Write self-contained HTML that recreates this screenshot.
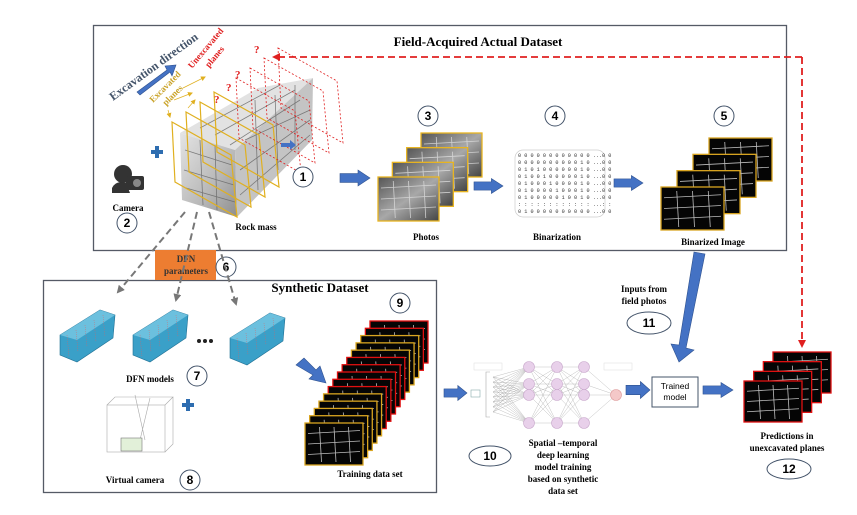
<!DOCTYPE html>
<html><head><meta charset="utf-8">
<style>
html,body{margin:0;padding:0;background:#fff;}
svg{display:block;font-family:"Liberation Serif",serif;}
.b{font-weight:bold;}
</style></head>
<body>
<svg id="s" width="857" height="515" viewBox="0 0 857 515" xmlns="http://www.w3.org/2000/svg">
<defs>
<linearGradient id="rk" x1="0" y1="0" x2="1" y2="1">
<stop offset="0" stop-color="#e4e4e4"/><stop offset="0.6" stop-color="#b8b8b8"/><stop offset="1" stop-color="#8e8e8e"/>
</linearGradient>
<linearGradient id="ph" x1="0" y1="0" x2="1" y2="1">
<stop offset="0" stop-color="#555"/><stop offset="0.5" stop-color="#a8a8a8"/><stop offset="1" stop-color="#444"/>
</linearGradient>
<marker id="ra" markerWidth="8" markerHeight="8" refX="6" refY="4" orient="auto" markerUnits="userSpaceOnUse"><path d="M0,0 L8,4 L0,8 z" fill="#e02020"/></marker>
<marker id="ga" markerWidth="8" markerHeight="8" refX="6" refY="4" orient="auto" markerUnits="userSpaceOnUse"><path d="M0,0 L8,4 L0,8 z" fill="#777"/></marker>
<marker id="ya" markerWidth="5" markerHeight="5" refX="4" refY="2.5" orient="auto" markerUnits="userSpaceOnUse"><path d="M0,0 L5,2.5 L0,5 z" fill="#e0b020"/></marker>
</defs>

<rect x="93.5" y="25.5" width="693" height="225" fill="none" stroke="#555a66" stroke-width="1.3"/>
<text x="478" y="46" class="b" font-size="13" text-anchor="middle">Field-Acquired Actual Dataset</text>

<rect x="43.5" y="280.5" width="393" height="212" fill="none" stroke="#555a66" stroke-width="1.3"/>
<text x="320" y="292" class="b" font-size="13" text-anchor="middle">Synthetic Dataset</text>

<rect x="155" y="250" width="61" height="30" fill="#ed7d31"/>
<text x="186" y="262" class="b" font-size="9" text-anchor="middle" fill="#333">DFN</text>
<text x="186" y="274" class="b" font-size="9" text-anchor="middle" fill="#333">parameters</text>

<polygon points="180,133 258,88 313,78 235,150" fill="#e2e2e2"/>
<polygon points="180,133 235,150 237,217 182,200" fill="url(#rk)"/>
<polygon points="235,150 313,78 312,140 237,217" fill="#c4c4c4"/>
<g id="cracks" stroke="#666" stroke-width="0.8" fill="none" opacity="0.8"></g>
<g id="planes"></g>

<text transform="translate(113,101) rotate(-36)" class="b" font-size="12" fill="#44546a">Excavation direction</text>
<polygon points="137,92 167,70 165,66 176,65 172,76 170,72 140,95" fill="#4472c4" stroke="#2f528f" stroke-width="0.6"/>
<text transform="translate(153,103) rotate(-45)" class="b" font-size="9" fill="#c9a227">Excavated</text>
<text transform="translate(166,106) rotate(-45)" class="b" font-size="9" fill="#c9a227">planes</text>
<text transform="translate(192,69) rotate(-50)" class="b" font-size="9" fill="#e02020">Unexcavated</text>
<text transform="translate(209,68) rotate(-50)" class="b" font-size="9" fill="#e02020">planes</text>
<g class="b" font-size="11" fill="#e02020"><text x="214" y="103">?</text><text x="226" y="91">?</text><text x="235" y="78">?</text><text x="254" y="53">?</text></g>
<path d="M281,143 h9 v-3 l6,5 -6,5 v-3 h-9z" fill="#4472c4"/>

<g fill="#333">
<circle cx="123" cy="174" r="9"/>
<path d="M112,188 q4,-8 14,-5 l4,10 h-18z"/>
<rect x="126" y="176" width="18" height="14" rx="2"/>
<circle cx="137" cy="183" r="4" fill="#888"/>
</g>
<text x="128" y="211" class="b" font-size="9" text-anchor="middle">Camera</text>
<path d="M151,152 h12 M157,146 v12" stroke="#2e6db0" stroke-width="4"/>
<text x="256" y="230" class="b" font-size="9" text-anchor="middle">Rock mass</text>

<g fill="#fff" stroke="#44546a" stroke-width="1">
<circle cx="303" cy="177" r="10"/><circle cx="127" cy="223" r="10"/><circle cx="428" cy="116" r="10"/>
<circle cx="555" cy="116" r="10"/><circle cx="724" cy="116" r="10"/><circle cx="226" cy="267" r="10"/>
<circle cx="197" cy="376" r="10"/><circle cx="190" cy="480" r="10"/><circle cx="400" cy="303" r="10"/>
<ellipse cx="490" cy="456" rx="21" ry="10"/><ellipse cx="649" cy="323" rx="22" ry="11"/><ellipse cx="789" cy="469" rx="22" ry="10"/>
</g>
<g font-family="Liberation Sans,sans-serif" font-weight="bold" font-size="12" text-anchor="middle">
<text x="303" y="181">1</text><text x="127" y="227">2</text><text x="428" y="120">3</text><text x="555" y="120">4</text>
<text x="724" y="120">5</text><text x="226" y="271">6</text><text x="197" y="380">7</text><text x="190" y="484">8</text>
<text x="400" y="307">9</text><text x="490" y="460">10</text><text x="649" y="327">11</text><text x="789" y="473">12</text>
</g>

<g fill="#4472c4" stroke="#2f528f" stroke-width="0.6" id="arrows"></g>

<g id="stacks"></g>
<text x="426" y="240" class="b" font-size="9" text-anchor="middle">Photos</text>
<text x="557" y="240" class="b" font-size="9" text-anchor="middle">Binarization</text>
<text x="713" y="245" class="b" font-size="9" text-anchor="middle">Binarized Image</text>

<rect x="515" y="150" width="90" height="67" rx="8" fill="none" stroke="#ccc" stroke-width="0.7"/>
<g id="mat" font-size="5.2" font-family="Liberation Mono,monospace" fill="#333"></g>

<path d="M802,57 H274" stroke="#e02020" stroke-width="1.8" stroke-dasharray="7,4" fill="none" marker-end="url(#ra)"/>
<path d="M802,57 V346" stroke="#e02020" stroke-width="1.8" stroke-dasharray="7,4" fill="none" marker-end="url(#ra)"/>
<g stroke="#777" stroke-width="2" stroke-dasharray="7,4" fill="none">
<path d="M185,212 L118,292" marker-end="url(#ga)"/>
<path d="M197,212 L176,300" marker-end="url(#ga)"/>
<path d="M209,212 L236,304" marker-end="url(#ga)"/>
</g>

<g id="dfn"></g>
<g fill="#222"><circle cx="199" cy="341" r="2"/><circle cx="205" cy="341" r="2"/><circle cx="211" cy="341" r="2"/></g>
<text x="150" y="382" class="b" font-size="9" text-anchor="middle">DFN models</text>
<path d="M182,405 h12 M188,399 v12" stroke="#2e6db0" stroke-width="4"/>
<g stroke="#aaa" stroke-width="0.6" fill="none">
<rect x="107" y="405" width="58" height="47"/><path d="M107,405 l8,-8 h58 l-8,8 M165,452 l8,-8 v-47"/>
<path d="M135,395 l10,45 M150,398 l-10,42"/>
</g>
<rect x="121" y="438" width="21" height="13" fill="#e2f0d9" stroke="#777" stroke-width="0.6"/>
<text x="135" y="483" class="b" font-size="9" text-anchor="middle">Virtual camera</text>
<text x="370" y="477" class="b" font-size="9" text-anchor="middle">Training data set</text>

<g id="nn"></g>
<rect x="652" y="377" width="46" height="30" fill="#fff" stroke="#44546a" stroke-width="1"/>
<text x="675" y="389" font-family="Liberation Sans,sans-serif" font-size="8.5" text-anchor="middle">Trained</text>
<text x="675" y="400" font-family="Liberation Sans,sans-serif" font-size="8.5" text-anchor="middle">model</text>
<g class="b" font-size="9" text-anchor="middle">
<text x="563" y="446">Spatial –temporal</text><text x="563" y="458">deep learning</text><text x="563" y="470">model training</text>
<text x="563" y="482">based on synthetic</text><text x="563" y="494">data set</text>
<text x="644" y="292">Inputs from</text><text x="644" y="304">field photos</text>
<text x="787" y="439">Predictions in</text><text x="787" y="451">unexcavated planes</text>
</g>
</svg>
<script>
const NS="http://www.w3.org/2000/svg";
function el(p,t,a){const e=document.createElementNS(NS,t);for(const k in a)e.setAttribute(k,a[k]);p.appendChild(e);return e;}
const $=id=>document.getElementById(id);
const cr=$("cracks");
[[185,150,232,165],[184,170,234,185],[186,188,235,202],[200,140,203,205],[215,145,217,210],[200,128,280,85],[215,135,295,90],[230,145,300,100],[245,140,310,110],[240,170,310,120],[240,195,310,135],[255,100,258,190],[275,95,278,170],[295,85,295,150]].forEach(c=>el(cr,"line",{x1:c[0],y1:c[1],x2:c[2],y2:c[3]}));
const pl=$("planes");
for(let i=0;i<8;i++){const dx=i*14+(i>3?8:0),dy=-i*10-(i>3?4:0);
 const pts=[[172+dx,122+dy],[231+dx,155+dy],[237+dx,217+dy],[175+dx,182+dy]].map(p=>p.join(",")).join(" ");
 if(i<4)el(pl,"polygon",{points:pts,fill:"none",stroke:"#e0b020","stroke-width":1.2});
 else el(pl,"polygon",{points:pts,fill:"none",stroke:"#e02020","stroke-width":0.8,"stroke-dasharray":"2,2"});
}
[[183,88,205,77],[174,100,192,93],[168,110,170,117],[188,108,195,100]].forEach(a=>el(pl,"path",{d:`M${a[0]},${a[1]} L${a[2]},${a[3]}`,stroke:"#e0b020","stroke-width":0.7,"marker-end":"url(#ya)"}));
const ar=$("arrows");
function harrow(x1,x2,y,h){const hh=h/2,head=Math.min(12,(x2-x1)*0.4);
 el(ar,"polygon",{points:`${x1},${y-hh*0.55} ${x2-head},${y-hh*0.55} ${x2-head},${y-hh} ${x2},${y} ${x2-head},${y+hh} ${x2-head},${y+hh*0.55} ${x1},${y+hh*0.55}`});}
harrow(340,370,178,16);harrow(474,503,186,15);harrow(614,643,183,15);
harrow(444,467,393,15);harrow(626,650,390,17);harrow(703,733,390,15);
el(ar,"polygon",{points:"296,365 304,358 316,370 320,366 326,383 309,379 313,375"});
el(ar,"polygon",{points:"694,252 705,254 686,348 694,350 679,362 671,344 679,345"});
const st=$("stacks");
function stack(front,back,n,colorFn,fill){
 for(let i=n-1;i>=0;i--){const t=n>1?i/(n-1):0;
  const x1=front[0]+(back[0]-front[0])*t,y1=front[1]+(back[1]-front[1])*t;
  const w=front[2]-front[0],h=front[3]-front[1];
  el(st,"rect",{x:x1,y:y1,width:w,height:h,fill:fill,stroke:colorFn(i),"stroke-width":1.3});
  const g=el(st,"g",{stroke:"#ddd","stroke-width":0.8,opacity:0.85});
  for(let k=1;k<4;k++)el(g,"line",{x1:x1+3,y1:y1+h*k/4,x2:x1+w-3,y2:y1+h*k/4-3});
  for(let k=1;k<4;k++)el(g,"line",{x1:x1+w*k/4,y1:y1+4,x2:x1+w*k/4+2,y2:y1+h-3});
 }}
stack([378,177,439,221],[421,133,483,177],4,()=>"#e8b420","url(#ph)");
stack([661,187,724,230],[709,138,772,182],4,()=>"#d9a520","#050505");
stack([744,381,802,422],[773,352,830,394],4,()=>"#e01010","#050505");
stack([305,423,363,465],[370,321,429,363],15,i=>((i<5)||(i>=10&&i<13))?"#d9a520":"#e01010","#050505");
const m=$("mat");
const rows=["0 0 0 0 0 0 0 0 0 0 0 0 ...0 0","0 0 0 0 0 0 0 0 0 0 1 0 ...0 0","0 1 0 1 0 0 0 0 0 0 1 0 ...0 0","0 1 0 0 1 0 0 0 0 0 1 0 ...0 0","0 1 0 0 0 1 0 0 0 0 1 0 ...0 0","0 1 0 0 0 0 1 0 0 0 1 0 ...0 0","0 1 0 0 0 0 0 1 0 0 1 0 ...0 0",": : : : : : : : : : : : ...: :","0 1 0 0 0 0 0 0 0 0 0 0 ...0 0"];
rows.forEach((r,i)=>{const t=el(m,"text",{x:518,y:157+i*7});t.textContent=r;});
const d=$("dfn");
[[55,300],[128,300],[225,303]].forEach(p=>{const [x,y]=p;
 el(d,"polygon",{points:`${x+5},${y+35} ${x+45},${y+10} ${x+60},${y+15} ${x+58},${y+38} ${x+22},${y+62} ${x+5},${y+55}`,fill:"#3aa0c8",stroke:"#1f6f93","stroke-width":0.6});
 el(d,"polygon",{points:`${x+5},${y+35} ${x+45},${y+10} ${x+60},${y+15} ${x+22},${y+40}`,fill:"#6cc0de"});
 for(let k=0;k<5;k++)el(d,"line",{x1:x+12+k*9,y1:y+35-k*5,x2:x+14+k*9,y2:y+57-k*5,stroke:"#e06060","stroke-width":0.4,"stroke-dasharray":"1,1"});
});
const nn=$("nn");
const cols=[529,557,584],rowsY=[367,384,395,423],out=[616,395];
const gl=el(nn,"g",{stroke:"#999","stroke-width":0.3});
for(let a=0;a<8;a++)rowsY.forEach(y=>el(gl,"line",{x1:493,y1:377+a*5,x2:cols[0],y2:y}));
for(let c=0;c<2;c++)rowsY.forEach(y1=>rowsY.forEach(y2=>el(gl,"line",{x1:cols[c],y1:y1,x2:cols[c+1],y2:y2})));
rowsY.forEach(y=>el(gl,"line",{x1:cols[2],y1:y,x2:out[0],y2:out[1]}));
el(nn,"path",{d:"M490,372 h-4 v45 h4",fill:"none",stroke:"#aaa","stroke-width":0.6});
el(nn,"rect",{x:471,y:390,width:9,height:7,fill:"#fff",stroke:"#8aa","stroke-width":0.6});
el(nn,"rect",{x:474,y:363,width:28,height:7,fill:"#fff",stroke:"#ddd","stroke-width":0.5});
el(nn,"rect",{x:604,y:363,width:28,height:7,fill:"#fff",stroke:"#ddd","stroke-width":0.5});
cols.forEach(x=>rowsY.forEach(y=>el(nn,"circle",{cx:x,cy:y,r:5.5,fill:"#e8d0ea",stroke:"#c9a8cc","stroke-width":0.6})));
el(nn,"circle",{cx:out[0],cy:out[1],r:5.5,fill:"#f4c8c8",stroke:"#d99","stroke-width":0.6});
</script>
</body></html>
